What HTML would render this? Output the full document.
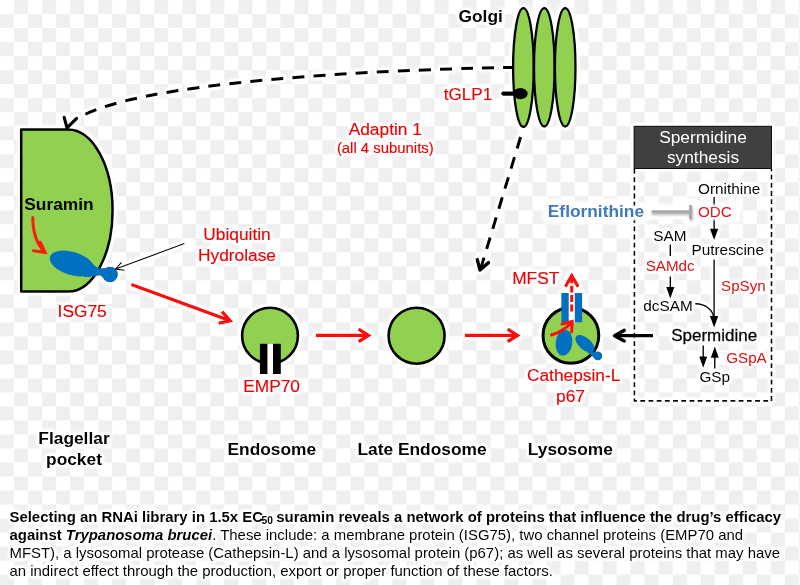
<!DOCTYPE html>
<html>
<head>
<meta charset="utf-8">
<title>Suramin RNAi network</title>
<style>
html,body{margin:0;padding:0;}
body{width:800px;height:585px;overflow:hidden;background:#fff;font-family:"Liberation Sans",sans-serif;}
svg{display:block;position:absolute;left:0;top:0;will-change:transform;}
svg text{font-family:"Liberation Sans",sans-serif;}
.r{fill:#ee0505;stroke:#ee0505;stroke-width:0.2px;}
.k{fill:#000;}
.b{font-weight:bold;}
.cap{position:absolute;left:9.5px;top:507.5px;width:790px;font-size:14.92px;line-height:18.16px;color:#000;white-space:nowrap;filter:url(#halo);}
.cap div{height:18.16px;}
.cap sub{font-size:10.3px;vertical-align:baseline;position:relative;top:2.6px;line-height:0;margin-left:-1.5px;margin-right:-0.8px;}
</style>
</head>
<body>
<svg width="800" height="585" viewBox="0 0 800 585">
<defs>
<pattern id="chk" x="0" y="0" width="28.03" height="28.03" patternUnits="userSpaceOnUse">
<rect x="0" y="0" width="28.03" height="28.03" fill="#ffffff"/>
<rect x="14.015" y="0" width="14.015" height="14.015" fill="#efefef"/>
<rect x="0" y="14.015" width="14.015" height="14.015" fill="#efefef"/>
</pattern>
<filter id="halo" x="-5%" y="-5%" width="110%" height="110%">
<feMorphology in="SourceAlpha" operator="dilate" radius="2" result="d"/>
<feGaussianBlur in="d" stdDeviation="1.4" result="b"/>
<feComponentTransfer in="b" result="b2"><feFuncA type="linear" slope="1.6" intercept="0"/></feComponentTransfer>
<feFlood flood-color="#ffffff" result="w"/>
<feComposite in="w" in2="b2" operator="in" result="h"/>
<feMerge><feMergeNode in="h"/><feMergeNode in="SourceGraphic"/><feMergeNode in="SourceGraphic"/></feMerge>
</filter>
<filter id="glow" x="-20%" y="-50%" width="140%" height="200%">
<feGaussianBlur stdDeviation="2.2"/>
</filter>
<filter id="glow2" x="-10%" y="-60%" width="120%" height="220%">
<feGaussianBlur stdDeviation="1.3"/>
</filter>
<filter id="sh" x="-20%" y="-50%" width="140%" height="200%">
<feGaussianBlur stdDeviation="1"/>
</filter>
</defs>
<rect x="0" y="0" width="800" height="585" fill="url(#chk)"/>
<g filter="url(#halo)">

<!-- dashed curve Golgi -> flagellar pocket -->
<g fill="none" stroke="#000" stroke-width="3">
<path d="M85.38,114.23 C162.80,77.22 422.61,68.89 512,67.4" stroke-dasharray="12 9.1"/>
<path d="M64.2,117.4 L67,127.8 L76.6,118.4" stroke-linecap="round" stroke-linejoin="round" stroke-width="3.2"/>
<!-- dashed Golgi -> lysosome -->
<path d="M520.6,137 L480.3,269.8" stroke-dasharray="12 9"/>
<path d="M477.3,259.6 L480,270 L488.5,262.6" stroke-linecap="round" stroke-linejoin="round" stroke-width="3.4"/>
</g>

<!-- flagellar pocket -->
<path d="M21.2,129.5 L68,129.5 A44.6,81 0 0 1 112.6,210.5 A44.6,81.1 0 0 1 68,291.6 L21.2,291.6 Z" fill="#92d050" stroke="#000" stroke-width="2.5" stroke-linejoin="round"/>
<text x="24.3" y="209.8" class="k b" font-size="17.33">Suramin</text>
<!-- red curved arrow in pocket -->
<g fill="none" stroke="#ff1a0d" stroke-width="3" stroke-linecap="round">
<path d="M32.8,217.6 C32.8,232 36.6,244 44.6,252"/>
<path d="M33.5,250.8 L45,252.4 L40.2,242.2"/>
</g>
<!-- ISG75 blue shape -->
<g fill="#0070c0">
<ellipse cx="72" cy="263.5" rx="23" ry="11.5" transform="rotate(17 72 263.5)"/>
<path d="M86,257 C91,262 95,267.5 100,268.6 L105,268 L105,279 L100,275.2 C95,275.5 91,277.5 84,277 Z"/>
<circle cx="110" cy="274.5" r="7.8"/>
</g>
<text x="57.6" y="316.8" class="r" font-size="17.33">ISG75</text>

<!-- ubiquitin hydrolase -->
<text x="237" y="239.5" class="r" font-size="17.33" text-anchor="middle">Ubiquitin</text>
<text x="237" y="260.7" class="r" font-size="17.33" text-anchor="middle">Hydrolase</text>
<g fill="none" stroke="#000" stroke-width="1.1">
<path d="M184.4,243.6 L115.6,269"/>
<path d="M121.5,262.3 L115.6,269 L124.6,270.2"/>
</g>

<!-- red arrows -->
<g fill="none" stroke="#ff0d0d" stroke-width="3.2">
<path d="M131.4,284.4 L229.6,320.6"/>
<path d="M218.6,323.2 L230.1,320.7 L222,311.6"/>
<path d="M316,335.4 L368,335.4"/>
<path d="M358.6,329.2 L368.5,335.4 L358.6,341.6"/>
<path d="M465,335.4 L517,335.4"/>
<path d="M507.6,329.2 L517.5,335.4 L507.6,341.6"/>
</g>

<!-- endosome -->
<circle cx="270" cy="335.7" r="27.9" fill="#92d050" stroke="#000" stroke-width="2.6"/>
<rect x="262" y="344" width="16" height="30" fill="#fff"/>
<rect x="259.9" y="343.8" width="7.5" height="30.2" fill="#000"/>
<rect x="273" y="343.8" width="7.8" height="30.2" fill="#000"/>
<text x="271.6" y="391.6" class="r" font-size="17.33" text-anchor="middle">EMP70</text>

<!-- late endosome -->
<circle cx="416.6" cy="335.7" r="28" fill="#92d050" stroke="#000" stroke-width="2.6"/>

<!-- lysosome -->
<circle cx="570.9" cy="335.4" r="27.9" fill="#92d050" stroke="#000" stroke-width="3"/>
<rect x="562" y="293" width="20" height="29.5" fill="#fff"/>
<rect x="561.4" y="293" width="7.3" height="29.5" fill="#0070c0"/>
<rect x="574.8" y="293" width="7.3" height="29.5" fill="#0070c0"/>
<g fill="#0070c0">
<ellipse cx="564" cy="342.7" rx="8.3" ry="13.1" transform="rotate(7 564 342.7)"/>
<ellipse cx="585" cy="343.8" rx="11.5" ry="6" transform="rotate(40 585 343.8)"/>
<path d="M589,350 L596,353 L594.5,358 L587,352 Z"/>
<circle cx="597.8" cy="355.9" r="4.4"/>
</g>
<g fill="none" stroke="#ff0d0d" stroke-width="3">
<path d="M571.7,311.4 L571.7,277" stroke-dasharray="6.9 2.5"/>
<path d="M566,285.6 L571.7,275.6 L577.5,285.6" stroke-linecap="round" stroke-width="3.1"/>
<path d="M551.6,334.9 C558,333.2 566,328.2 571.6,322.5" stroke-width="3.2" stroke-linecap="round"/>
<path d="M562,324 L572.2,321.5 L571.7,331.7" stroke-width="3" stroke-linecap="round"/>
</g>
<text x="512.2" y="284.1" class="r" font-size="17.33">MFST</text>
<text x="573.7" y="381" class="r" font-size="17.33" text-anchor="middle">Cathepsin-L</text>
<text x="570.5" y="401.8" class="r" font-size="17.33" text-anchor="middle">p67</text>

<!-- black arrow spermidine -> lysosome -->
<g fill="none" stroke="#000" stroke-width="3.3">
<path d="M653,335.7 L616,335.7"/>
<path d="M624.2,330.4 L614.6,335.7 L624.2,341" stroke-linecap="round" stroke-linejoin="round" stroke-width="3.5"/>
</g>

<!-- Golgi -->
<g fill="#92d050" stroke="#000" stroke-width="2.3">
<ellipse cx="523.4" cy="67.5" rx="10.3" ry="59.4"/>
<ellipse cx="544.3" cy="67.3" rx="10.3" ry="59.2"/>
<ellipse cx="565.2" cy="67.3" rx="10.3" ry="59.2"/>
</g>
<text x="458.5" y="21.5" class="k b" font-size="17.33">Golgi</text>
<text x="443.7" y="99.5" class="r" font-size="17.1">tGLP1</text>
<path d="M503.3,93.6 L519,93.6" stroke="#000" stroke-width="4.3" stroke-linecap="round" fill="none"/>
<ellipse cx="520.4" cy="93.6" rx="7.3" ry="5.6" fill="#000"/>

<!-- Adaptin -->
<text x="385.3" y="135" class="r" font-size="17.33" text-anchor="middle">Adaptin 1</text>
<text x="385.3" y="153.3" class="r" font-size="14.9" text-anchor="middle">(all 4 subunits)</text>

<!-- Spermidine synthesis box -->
<path d="M634.4,169 L634.4,400.9 L771.5,400.9 L771.5,169" fill="none" stroke="#000" stroke-width="1.6" stroke-dasharray="4.8 3.4"/>
<rect x="634.1" y="126.3" width="137.4" height="42.2" fill="#404040" stroke="#111" stroke-width="1"/>
<text x="703" y="142.9" fill="#fff" font-size="17.33" text-anchor="middle">Spermidine</text>
<text x="703" y="163.4" fill="#fff" font-size="17.33" text-anchor="middle">synthesis</text>

<g font-size="15.33" class="k">
<text x="698" y="194">Ornithine</text>
<text x="653.3" y="240.5">SAM</text>
<text x="691.5" y="254.7">Putrescine</text>
<text x="643.3" y="310.7">dcSAM</text>
<text x="699.4" y="382">GSp</text>
</g>
<text x="671.2" y="340.5" class="k" font-size="17" stroke="#000" stroke-width="0.3">Spermidine</text>

<!-- pathway arrows -->
<g stroke="#000" stroke-width="1.4" fill="none">
<path d="M714.1,197 L714.1,231"/>
<path d="M670.3,244.6 L670.3,256"/>
<path d="M670.3,276.5 L670.3,289"/>
<path d="M714.1,259.4 L714.1,317"/>
<path d="M695.3,303.8 C706,304 713,310 713.8,318"/>
<path d="M703.2,345.6 L703.2,358"/>
<path d="M714.8,368.5 L714.8,356"/>
</g>
<g fill="#000">
<path d="M710,228.8 L714.1,240 L718.2,228.8 Z"/>
<path d="M666.2,287 L670.3,298.4 L674.4,287 Z"/>
<path d="M709.9,316 L714.1,327.4 L718.3,316 Z"/>
<path d="M699.2,356.5 L703.2,367.8 L707.2,356.5 Z"/>
<path d="M710.8,357.8 L714.8,346.4 L718.8,357.8 Z"/>
</g>

<!-- glow for eflornithine / ODC -->
<g filter="url(#glow2)">
<text x="547.8" y="216.6" class="b" fill="#fff" stroke="#fff" stroke-width="7" stroke-linejoin="round" font-size="17.33">Eflornithine</text>
<path d="M651.7,212 L690,212 M690.6,205 L690.6,220" stroke="#fff" stroke-width="9" stroke-linecap="round" fill="none"/>
</g>
<rect x="693.5" y="204.3" width="44" height="16" fill="#fff" opacity="0.97" filter="url(#sh)"/>
<g filter="url(#sh)" opacity="0.6">
<path d="M652,213.6 L690,213.6" stroke="#8a8a8a" stroke-width="3" fill="none"/>
<path d="M691.3,207 L691.3,221" stroke="#8a8a8a" stroke-width="3" fill="none"/>
</g>
<path d="M651.7,211.7 L690,211.7" stroke="#a9a9a9" stroke-width="3" fill="none"/>
<path d="M690.6,205 L690.6,219" stroke="#a9a9a9" stroke-width="3" fill="none"/>
<text x="547.8" y="216.6" class="b" fill="#4379b8" font-size="17.33">Eflornithine</text>

<g font-size="15.2" fill="#e3161c">
<text x="698" y="216.5">ODC</text>
<text x="645.7" y="271.2">SAMdc</text>
<text x="721" y="290.6">SpSyn</text>
<text x="726.2" y="362.8">GSpA</text>
</g>

<!-- bottom labels -->
<g class="k b" font-size="17.33">
<text x="74" y="444.2" text-anchor="middle">Flagellar</text>
<text x="74" y="465" text-anchor="middle">pocket</text>
<text x="227.5" y="454.9">Endosome</text>
<text x="357.5" y="455">Late Endosome</text>
<text x="527.8" y="455">Lysosome</text>
</g>
</g>
</svg>

<div class="cap">
<div><b>Selecting an RNAi library in 1.5x EC<sub>50</sub> suramin reveals a network of proteins that influence the drug’s efficacy</b></div>
<div><b>against <i>Trypanosoma brucei</i></b>. These include: a membrane protein (ISG75), two channel proteins (EMP70 and</div>
<div>MFST), a lysosomal protease (Cathepsin-L) and a lysosomal protein (p67); as well as several proteins that may have</div>
<div>an indirect effect through the production, export or proper function of these factors.</div>
</div>
</body>
</html>
